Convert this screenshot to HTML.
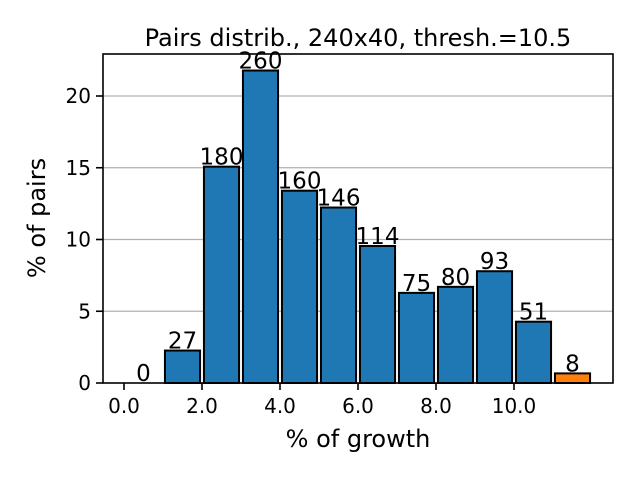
<!DOCTYPE html>
<html><head><meta charset="utf-8"><style>
body{margin:0;background:#fff}
svg{font-family:"DejaVu Sans","Liberation Sans",sans-serif}
</style></head><body>
<svg id="chart" width="640" height="480"></svg>
<script>
const counts=[0,27,180,260,160,146,114,75,80,93,51,8];
const xTicks=[0,2,4,6,8,10];
const yTicks=[0,5,10,15,20];
const total=counts.reduce((a,b)=>a+b,0);
const pct=counts.map(c=>c/total*100);
const NS="http://www.w3.org/2000/svg";
const svg=document.getElementById('chart');
const L=103,R=613,T=54,B=383;
const x=v=>124+39*v;
const y=v=>B-v*14.35;
function el(t,a,txt){const e=document.createElementNS(NS,t);for(const k in a)e.setAttribute(k,a[k]);if(txt!=null)e.textContent=txt;svg.appendChild(e);return e;}
yTicks.forEach(t=>{if(t>0){const g=el('line',{x1:L,x2:R,y1:y(t),y2:y(t),stroke:'#b0b0b0','stroke-width':1.2});

}});
counts.forEach((c,i)=>{
const r=el('rect',{x:x(i+0.05),y:y(pct[i]),width:x(i+0.95)-x(i+0.05),height:B-y(pct[i]),fill:i==counts.length-1?'#ff7f0e':'#1f77b4',stroke:'#000','stroke-width':2});


const l=el('text',{x:x(i+0.5),y:y(pct[i])-2,'text-anchor':'middle','font-size':23,fill:'#000'},String(c));


});
const f=el('rect',{x:L,y:T,width:R-L,height:B-T,fill:'none',stroke:'#000','stroke-width':1.6});


xTicks.forEach(t=>{
el('line',{x1:x(t),x2:x(t),y1:B,y2:B+7,stroke:'#000','stroke-width':1.6});
const tx=el('text',{x:x(t),y:B+30,'text-anchor':'middle','font-size':20},t.toFixed(1));


});
yTicks.forEach(t=>{
el('line',{x1:L-7,x2:L,y1:y(t),y2:y(t),stroke:'#000','stroke-width':1.6});
const tx=el('text',{x:L-12,y:y(t)+7,'text-anchor':'end','font-size':20},String(t));


});
const xt=el('text',{x:358,y:447,'text-anchor':'middle','font-size':24},'% of growth');


const yt=el('text',{x:45,y:218,'text-anchor':'middle','font-size':24,transform:'rotate(-90 45 218)'},'% of pairs');


const tt=el('text',{x:358,y:46,'text-anchor':'middle','font-size':24},'Pairs distrib., 240x40, thresh.=10.5');


</script>
</body></html>
